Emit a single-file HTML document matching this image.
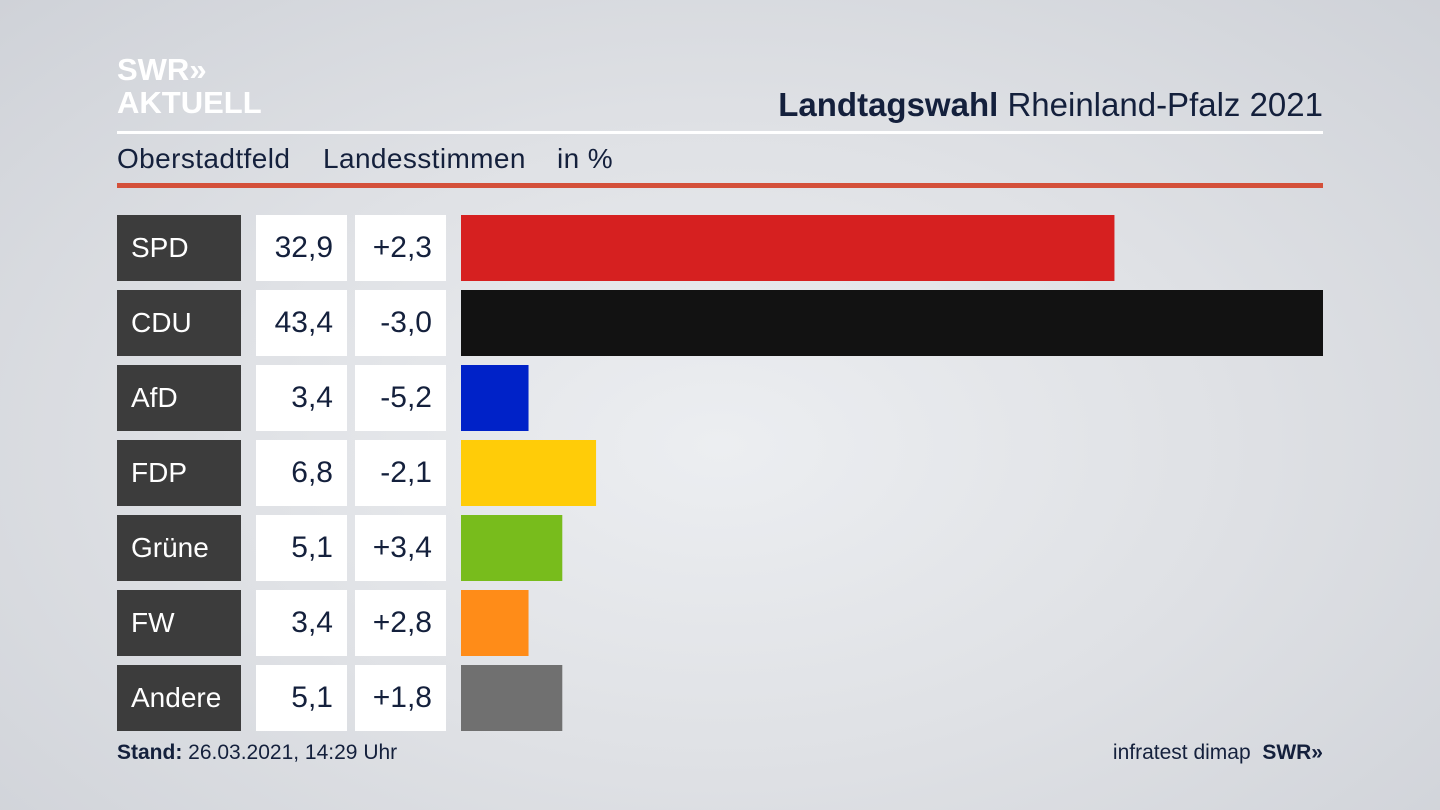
<!DOCTYPE html>
<html><head><meta charset="utf-8"><style>
body{margin:0;width:1440px;height:810px;overflow:hidden;font-family:"Liberation Sans",sans-serif;
background:radial-gradient(ellipse at 50% 55%,#eceef1 0%,#dfe1e5 50%,#cfd2d8 100%);position:relative;color:#14203c}
.a{position:absolute}
.lbl{background:#3c3c3c;color:#fff;font-size:28px;line-height:66px;padding-left:14px;box-sizing:border-box}
.box{background:#fff;font-size:30px;line-height:66px;text-align:right;padding-right:14px;box-sizing:border-box;color:#14203c}
.sub{position:absolute;top:143px;font-size:28px;letter-spacing:0.4px}
</style></head><body>
<div class="a" style="left:117px;top:53px;color:#fff;font-weight:bold;font-size:31px;line-height:33px">SWR&#187;<br>AKTUELL</div>
<div class="a" style="right:117px;top:86px;font-size:33px"><b>Landtagswahl</b> Rheinland-Pfalz 2021</div>
<div class="a" style="left:117px;top:131px;width:1206px;height:3px;background:#fff"></div>
<div class="sub" style="left:117px">Oberstadtfeld</div>
<div class="sub" style="left:323px">Landesstimmen</div>
<div class="sub" style="left:557px">in %</div>
<div class="a" style="left:117px;top:183px;width:1206px;height:5px;background:#d4503a"></div>
<svg class="a" id="chart" style="left:0;top:0" width="1440" height="810"></svg>
<div id="rows"></div>
<div class="a" style="left:117px;top:741px;font-size:21px"><b>Stand:</b> 26.03.2021, 14:29 Uhr</div>
<div class="a" style="right:117px;top:741px;font-size:21px">infratest dimap&nbsp; <b>SWR&#187;</b></div>
<script>
const parties=["SPD","CDU","AfD","FDP","Grüne","FW","Andere"];
const values=[32.9,43.4,3.4,6.8,5.1,3.4,5.1];
const diffs=["+2,3","-3,0","-5,2","-2,1","+3,4","+2,8","+1,8"];
const colors=["#d62020","#121212","#0022c8","#ffcc08","#78bc1c","#ff8c18","#707070"];
const x0=461,xMax=43.4,wMax=862;
const xs=v=>v/xMax*wMax;
const rowY=i=>215+i*75;
const svg=document.getElementById('chart'),rows=document.getElementById('rows');
parties.forEach((p,i)=>{
  const y=rowY(i);
  const r=document.createElementNS('http://www.w3.org/2000/svg','rect');
  r.setAttribute('x',x0);r.setAttribute('y',y);r.setAttribute('width',xs(values[i]));r.setAttribute('height',66);r.setAttribute('fill',colors[i]);
  
  
  svg.appendChild(r);
  const l=document.createElement('div');l.className='a lbl';l.style.cssText=`left:117px;top:${y}px;width:124px;height:66px`;l.textContent=p;
  
  
  rows.appendChild(l);
  const v=document.createElement('div');v.className='a box';v.style.cssText=`left:256px;top:${y}px;width:91px;height:66px`;v.textContent=values[i].toFixed(1).replace('.',',');
  
  
  rows.appendChild(v);
  const d=document.createElement('div');d.className='a box';d.style.cssText=`left:355px;top:${y}px;width:91px;height:66px`;d.textContent=diffs[i];
  
  
  rows.appendChild(d);
});
</script>
</body></html>
